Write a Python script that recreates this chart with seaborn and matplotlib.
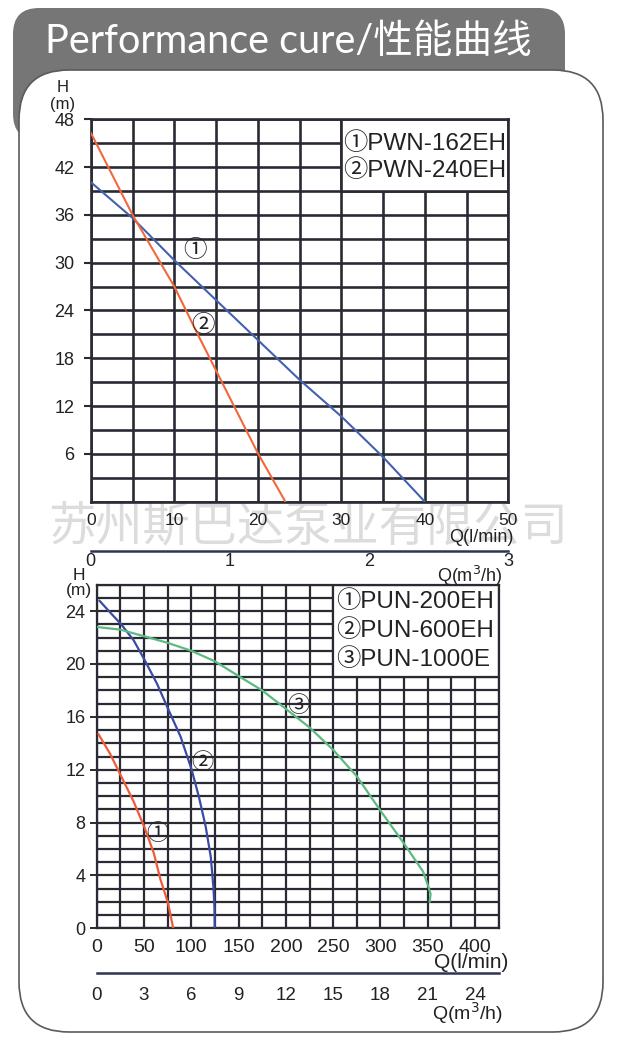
import numpy as np
import pandas as pd
import matplotlib
matplotlib.use("Agg")
import matplotlib.pyplot as plt
import seaborn as sns
from matplotlib.patches import FancyBboxPatch, Rectangle
from matplotlib.transforms import IdentityTransform
from matplotlib.ticker import MultipleLocator

# ---------------- data ----------------
# upper chart: Q in l/min, H in m
pwn162_q = [0, 5, 10, 25, 30, 35, 40]
pwn162_h = [40.1, 35.6, 30.3, 15.3, 10.7, 5.6, 0]
pwn240_q = [0, 5, 10, 13, 20, 23.3]
pwn240_h = [46.3, 36.0, 27.0, 20.6, 6.1, 0]
top_models = ["PWN-162EH", "PWN-240EH"]
top_marks = ["①", "②"]
top_mark_q = [12.5, 13.5]
top_mark_h = [31.4, 22.0]

# lower chart
pun200_q = [1.8, 14.2, 25.9, 39, 50.7, 60.3, 67.4, 75.5, 80.9]
pun200_h = [14.7, 13.2, 11.5, 9.6, 7.6, 5.7, 3.7, 1.9, 0]
pun600_q = [2.8, 14.2, 25.9, 39, 50.7, 63.8, 75.5, 88.7, 100.4, 108.2, 115.2, 120.6, 123.4, 124.5, 124.8]
pun600_h = [24.8, 23.9, 23.0, 21.8, 20.3, 18.5, 16.6, 14.5, 12.0, 9.9, 7.7, 5.4, 3.1, 1.6, 0]
pun1000_q = [0, 25, 50, 75, 100, 125, 152, 175, 200, 225, 250, 275, 300, 325, 345, 350, 353, 352]
pun1000_h = [22.8, 22.6, 22.1, 21.6, 21.0, 20.2, 19.0, 18.0, 16.6, 15.2, 13.5, 11.5, 8.9, 6.4, 4.3, 3.3, 2.6, 2.0]
bot_models = ["PUN-200EH", "PUN-600EH", "PUN-1000E"]
bot_marks = ["①", "②", "③"]
bot_mark_q = [63.8, 111.7, 213]
bot_mark_h = [7.1, 12.5, 16.8]

top_yticks = [6, 12, 18, 24, 30, 36, 42, 48]
top_xticks = [0, 10, 20, 30, 40, 50]
top_m3h_ticks = [0, 1, 2, 3]
bot_yticks = [0, 4, 8, 12, 16, 20, 24]
bot_xticks = [0, 50, 100, 150, 200, 250, 300, 350, 400]
bot_m3h_ticks = [0, 3, 6, 9, 12, 15, 18, 21, 24]

title_text = "Performance cure/性能曲线"
watermark = "苏州斯巴达泵业有限公司"

# ---------------- style ----------------
sns.set_theme(style="white")
FONTS = ["Liberation Sans", "Noto Sans CJK SC", "DejaVu Sans"]
plt.rcParams["font.family"] = FONTS
plt.rcParams["text.color"] = "#222222"
plt.rcParams["xtick.color"] = "#222222"
plt.rcParams["ytick.color"] = "#222222"

GRID = "#2a2a35"
AXLINE = "#2e3552"
W, H = 618, 1044
def fx(x): return x / W
def fy(y): return 1 - y / H

fig = plt.figure(figsize=(W / 100, H / 100), dpi=100)
fig.patch.set_facecolor("white")

# header banner and white panel
banner = FancyBboxPatch((13, H - 140), 552, 132, boxstyle="round,pad=0,rounding_size=26",
                        transform=IdentityTransform(), fc="#767676", ec="none", zorder=-3)
fig.add_artist(banner)
panel = FancyBboxPatch((19, H - 1032), 584, 962, boxstyle="round,pad=0,rounding_size=50",
                       transform=IdentityTransform(), fc="white", ec="#5a5a5a", lw=1.2, zorder=-2)
fig.add_artist(panel)
fig.text(fx(45), fy(42), title_text, color="white", fontsize=28.5,
         family=["Lato", "Noto Sans CJK SC"], ha="left", va="center", zorder=5)
fig.text(fx(308), fy(527), watermark, color="#dcdcdc", fontsize=34, fontweight="light",
         family=["Noto Sans CJK SC"], ha="center", va="center", zorder=-1)

def style_grid(ax, lw):
    ax.set_axisbelow(True)
    ax.grid(True, which="both", color=GRID, lw=lw)
    for s in ax.spines.values():
        s.set_color(GRID)
        s.set_linewidth(lw)
        s.set_visible(True)

# ---------------- upper chart ----------------
ax1 = fig.add_axes([fx(90.8), fy(501.7), (508.3 - 90.8) / W, (501.7 - 119.2) / H])
df_top = pd.concat([
    pd.DataFrame({"Q": pwn162_q, "H": pwn162_h, "model": top_models[0]}),
    pd.DataFrame({"Q": pwn240_q, "H": pwn240_h, "model": top_models[1]}),
])
sns.lineplot(data=df_top, x="Q", y="H", hue="model", palette=["#4262b0", "#f2683c"],
             estimator=None, sort=False, legend=False, lw=1.5, ax=ax1, zorder=3)
ax1.set_xlim(0, 50)
ax1.set_ylim(0, 48)
ax1.set_xticks(top_xticks)
ax1.xaxis.set_minor_locator(MultipleLocator(5))
ax1.set_yticks(top_yticks)
ax1.yaxis.set_minor_locator(MultipleLocator(3))
ax1.tick_params(axis="x", which="both", length=0, pad=8, labelsize=12.5)
ax1.tick_params(axis="y", which="major", length=5, width=1.5, color=GRID, pad=7, labelsize=13, left=True)
ax1.tick_params(axis="y", which="minor", length=0)
ax1.set_xlabel("")
ax1.set_ylabel("")
style_grid(ax1, 1.9)
ax1.add_patch(Rectangle((30, 39), 20, 9, fc="white", ec=GRID, lw=1.9, zorder=1.5))
for i, t in enumerate(top_models):
    ax1.text(30.2, 44.9 - 3.3 * i, top_marks[i] + t, fontsize=17.5, ha="left", va="center",
             family=FONTS, zorder=4)
for m, q, h in zip(top_marks, top_mark_q, top_mark_h):
    ax1.text(q, h, m, fontsize=17, ha="center", va="center", family=FONTS, zorder=4)

fig.text(fx(63), fy(88), "H", fontsize=12, ha="center", va="center")
fig.text(fx(63), fy(104), "(m)", fontsize=12, ha="center", va="center")
fig.text(fx(513), fy(538), "Q(l/min)", fontsize=13, ha="right", va="center")

# m3/h scale for upper chart
ax1b = fig.add_axes([fx(90.8), fy(550.7), (508.3 - 90.8) / W, 0.0005])
ax1b.set_facecolor("none")
ax1b.set_xlim(0, 50 * 0.06)
ax1b.set_xticks(top_m3h_ticks)
ax1b.xaxis.set_minor_locator(MultipleLocator(1 / 3))
ax1b.set_yticks([])
for k in ["left", "right", "top"]:
    ax1b.spines[k].set_visible(False)
ax1b.spines["bottom"].set_color(AXLINE)
ax1b.spines["bottom"].set_linewidth(1.8)
ax1b.tick_params(axis="x", which="both", direction="in", length=4, width=1.2, color=GRID,
                 pad=2, labelsize=13)
fig.text(fx(503), fy(576), "Q(m$^3$/h)", fontsize=13, ha="right", va="center")

# ---------------- lower chart ----------------
ax2 = fig.add_axes([fx(96.7), fy(928.3), (498.7 - 96.7) / W, (928.3 - 584.7) / H])
df_bot = pd.concat([
    pd.DataFrame({"Q": pun200_q, "H": pun200_h, "model": bot_models[0]}),
    pd.DataFrame({"Q": pun600_q, "H": pun600_h, "model": bot_models[1]}),
    pd.DataFrame({"Q": pun1000_q, "H": pun1000_h, "model": bot_models[2]}),
])
sns.lineplot(data=df_bot, x="Q", y="H", hue="model", palette=["#ef5b3a", "#3a4ba3", "#5cba80"],
             estimator=None, sort=False, legend=False, lw=1.6, ax=ax2, zorder=3)
ax2.set_xlim(0, 425)
ax2.set_ylim(0, 26)
ax2.set_xticks(bot_xticks)
ax2.xaxis.set_minor_locator(MultipleLocator(25))
ax2.set_yticks(bot_yticks)
ax2.yaxis.set_minor_locator(MultipleLocator(1))
ax2.tick_params(axis="x", which="both", length=0, pad=8, labelsize=14)
ax2.tick_params(axis="y", which="major", length=5, width=1.4, color=GRID, pad=3, labelsize=13, left=True)
ax2.tick_params(axis="y", which="minor", length=0)
ax2.set_xlabel("")
ax2.set_ylabel("")
style_grid(ax2, 1.6)
ax2.add_patch(Rectangle((250, 19), 175, 7, fc="white", ec=GRID, lw=1.6, zorder=1.5))
for i, t in enumerate(bot_models):
    ax2.text(253, 24.7 - 2.2 * i, bot_marks[i] + t, fontsize=17.5, ha="left", va="center",
             family=FONTS, zorder=4)
for m, q, h in zip(bot_marks, bot_mark_q, bot_mark_h):
    ax2.text(q, h, m, fontsize=16, ha="center", va="center", family=FONTS, zorder=4)

fig.text(fx(79), fy(576), "H", fontsize=12.5, ha="center", va="center")
fig.text(fx(79), fy(591), "(m)", fontsize=12.5, ha="center", va="center")
fig.text(fx(508), fy(962), "Q(l/min)", fontsize=15, ha="right", va="center")

# m3/h scale for lower chart
ax2b = fig.add_axes([fx(96.7), fy(973.3), (498.7 - 96.7) / W, 0.0005])
ax2b.set_facecolor("none")
ax2b.set_xlim(0, 425 * 0.06)
ax2b.set_xticks(bot_m3h_ticks)
ax2b.set_yticks([])
for k in ["left", "right", "top"]:
    ax2b.spines[k].set_visible(False)
ax2b.spines["bottom"].set_color(AXLINE)
ax2b.spines["bottom"].set_linewidth(1.8)
ax2b.tick_params(axis="x", which="major", direction="out", length=5, width=1.4, color=GRID,
                 pad=5, labelsize=13.5)
fig.text(fx(503), fy(1013), "Q(m$^3$/h)", fontsize=14, ha="right", va="center")

fig.savefig("out.png", dpi=100)
